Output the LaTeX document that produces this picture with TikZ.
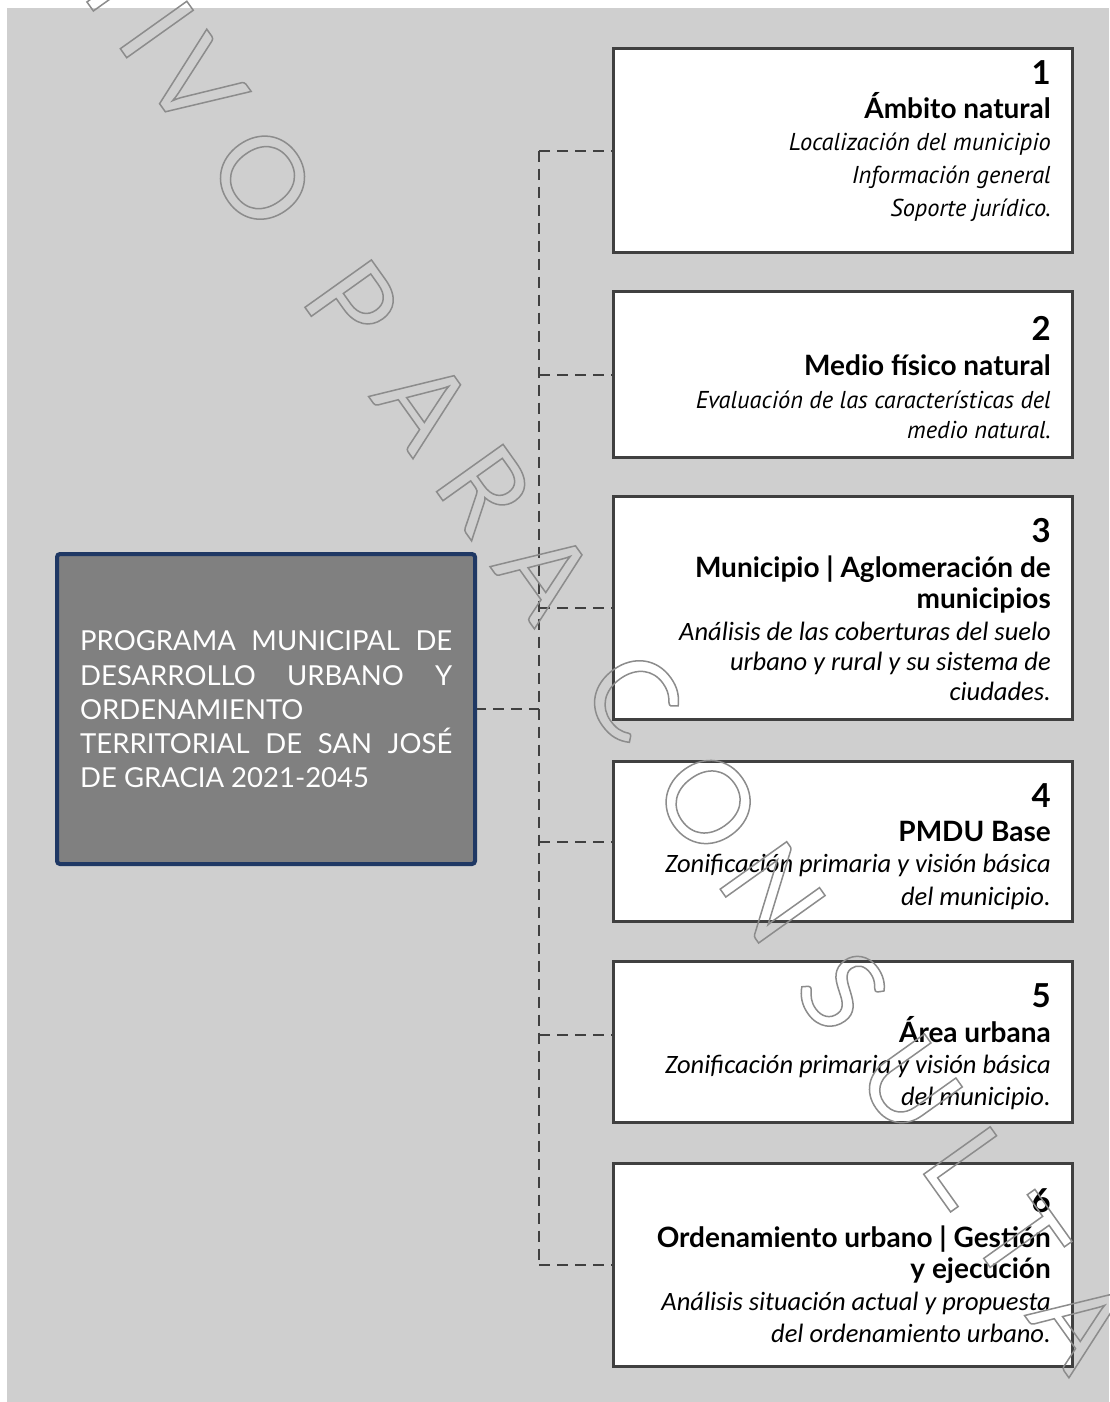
\documentclass[tikz,border=0pt]{standalone}
\usepackage{fontspec}
\setmainfont{Lato}
\newfontfamily\ptsans{PT Sans}
\newfontfamily\carlito{Carlito}
\definecolor{bggray}{RGB}{207,207,207}
\definecolor{boxline}{RGB}{64,64,64}
\definecolor{navy}{RGB}{31,56,100}
\definecolor{maingray}{RGB}{128,128,128}
\definecolor{dashc}{RGB}{64,64,64}
\newcommand{\outlinetxt}[1]{\special{pdf:literal direct q 1 Tr 1.5 w 0.55 G}#1\special{pdf:literal direct Q}}
\begin{document}
\begin{tikzpicture}[x=1pt,y=-1pt,
  stepbox/.style={inner sep=0pt,outer sep=0pt,minimum width=459pt},
  mainbox/.style={inner sep=0pt,outer sep=0pt,minimum width=418pt,minimum height=310pt},
  conn/.style={draw=dashc,line width=2pt,dash pattern=on 11pt off 7pt},
  rl/.style={anchor=base east,inner sep=0pt},
  num/.style={rl,font=\fontsize{33}{33}\selectfont\bfseries},
  ttl/.style={rl,font=\fontsize{28}{28}\selectfont\bfseries},
  gi/.style={rl,font=\fontsize{24.4}{24.4}\ptsans\itshape},
  ci/.style={rl,font=\fontsize{26.5}{26.5}\carlito\itshape},
  ml/.style={anchor=base west,inner sep=0pt,text=white,font=\fontsize{27.5}{27.5}\selectfont},
  wm/.style={inner sep=0pt,rotate=-54.5,font=\fontsize{114}{114}\selectfont}
]
\useasboundingbox (0,0) rectangle (1109,1402);
\fill[bggray] (7,8) rectangle (1109,1402);

\coordinate (trunk) at (539,0);
\path (842.5,150.5) node[stepbox,minimum height=204pt] (b1) {};
\path (842.5,374.5) node[stepbox,minimum height=166pt] (b2) {};
\path (842.5,608) node[stepbox,minimum height=223pt] (b3) {};
\path (842.5,841.5) node[stepbox,minimum height=160pt] (b4) {};
\path (842.5,1042) node[stepbox,minimum height=161pt] (b5) {};
\path (842.5,1265) node[stepbox,minimum height=203pt] (b6) {};
\path (266,709) node[mainbox] (main) {};
\coordinate (b5c) at ([yshift=7pt]b5.west);

% connectors
\draw[conn] (main.east) -- (main.east -| trunk);
\draw[conn] (b1.west -| trunk) -- (b6.west -| trunk);
\foreach \b in {b1,b2,b3,b4,b6} \draw[conn] (\b.west -| trunk) -- (\b.west);
\draw[conn] (b5c -| trunk) -- (b5c);

% visible boxes
\foreach \b in {b1,b2,b3,b4,b5,b6}
  \draw[draw=boxline,line width=3pt,fill=white] (\b.north west) rectangle (\b.south east);
\draw[draw=navy,line width=4pt,fill=maingray,rounded corners=3pt] (main.north west) rectangle (main.south east);

% main text
\node[ml] (m1) at (80,650) {\makebox[372pt][s]{PROGRAMA MUNICIPAL DE}};
\node[ml] (m2) at (80,685) {\makebox[372pt][s]{DESARROLLO URBANO Y}};
\node[ml] (m3) at (80,719) {ORDENAMIENTO};
\node[ml] (m4) at (80,753) {\makebox[372pt][s]{TERRITORIAL DE SAN JOSÉ}};
\node[ml] (m5) at (80,787) {DE GRACIA 2021-2045};

% box 1
\node[num] (b1n) at (1051,85) {1};
\node[ttl] (b1t) at (1051,118) {Ámbito natural};
\node[gi] (b1a) at (1051,150) {Localización del municipio};
\node[gi] (b1b) at (1051,183) {Información general};
\node[gi] (b1c) at (1051,216) {Soporte jurídico.};
% box 2
\node[num] (b2n) at (1051,340) {2};
\node[ttl] (b2t) at (1051,375) {Medio físico natural};
\node[gi] (b2a) at (1051,408) {Evaluación de las características del};
\node[gi] (b2b) at (1051,438) {medio natural.};
% box 3
\node[num] (b3n) at (1051,542) {3};
\node[ttl] (b3t) at (1051,577) {Municipio | Aglomeración de};
\node[ttl] (b3u) at (1051,608) {municipios};
\node[ci] (b3a) at (1051,640) {Análisis de las coberturas del suelo};
\node[ci] (b3b) at (1051,670) {urbano y rural y su sistema de};
\node[ci] (b3c) at (1051,700) {ciudades.};
% box 4
\node[num] (b4n) at (1051,807) {4};
\node[ttl] (b4t) at (1051,841) {PMDU Base};
\node[ci] (b4a) at (1051,872) {Zonificación primaria y visión básica};
\node[ci] (b4b) at (1051,905) {del municipio.};
% box 5
\node[num] (b5n) at (1051,1007) {5};
\node[ttl] (b5t) at (1051,1042) {Área urbana};
\node[ci] (b5a) at (1051,1073) {Zonificación primaria y visión básica};
\node[ci] (b5b) at (1051,1105) {del municipio.};
% box 6
\node[num] (b6n) at (1051,1212) {6};
\node[ttl] (b6t) at (1051,1247) {Ordenamiento urbano | Gestión};
\node[ttl] (b6u) at (1051,1278) {y ejecución};
\node[ci] (b6a) at (1051,1310) {Análisis situación actual y propuesta};
\node[ci] (b6b) at (1051,1342) {del ordenamiento urbano.};

% watermark
\foreach \ch/\s [count=\k] in {H/-421,I/-336,V/-269,O/-154,P/0,A/124,R/228,A/333,C/483,O/613,N/724,S/845,U/960,L/1060,T/1150,A/1253}
  \node[wm] (wm\k) at ({352+0.581*\s},{303+0.814*\s}) {\outlinetxt{\ch}};
\end{tikzpicture}
\end{document}
